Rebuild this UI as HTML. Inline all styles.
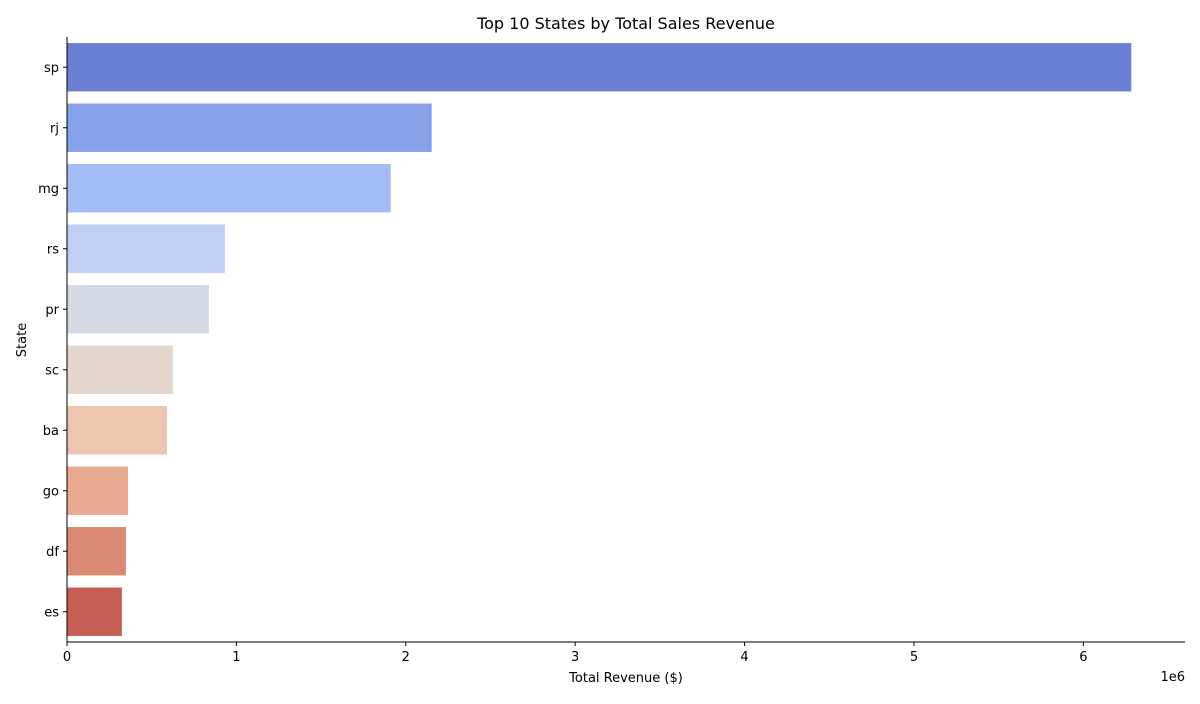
<!DOCTYPE html>
<html><head><meta charset="utf-8"><style>
body{margin:0;background:#fff;font-family:"DejaVu Sans","Liberation Sans",sans-serif;}
</style></head><body>
<svg width="1200" height="700" id="c" xmlns="http://www.w3.org/2000/svg">
<text x="626" y="29" font-size="16" text-anchor="middle">Top 10 States by Total Sales Revenue</text>
<text x="626" y="682" font-size="13" text-anchor="middle">Total Revenue ($)</text>
<text x="1185" y="681" font-size="13" text-anchor="end">1e6</text>
<text x="26" y="340" font-size="13" text-anchor="middle" transform="rotate(-90 26 340)">State</text>
</svg>
<script>
const categories=["sp","rj","mg","rs","pr","sc","ba","go","df","es"];
const revenue=[6.283,2.153,1.911,0.932,0.838,0.625,0.590,0.360,0.348,0.324];
const colors=["#6b7fd3","#86a1e7","#a3bcf5","#bed0f2","#d5dbe5","#e4d6cd","#ebc5b0","#e7aa91","#da8a72","#c55f55"];
const xTicks=[0,1,2,3,4,5,6];
const L=67,R=1185,T=37,B=642,xmax=6.6;
const NS="http://www.w3.org/2000/svg";
const svg=document.getElementById('c');
const x=v=>L+v/xmax*(R-L);
const step=(B-T)/categories.length;
const y=i=>T+i*step;
function mk(t,a){const e=document.createElementNS(NS,t);for(const k in a)e.setAttribute(k,a[k]);svg.appendChild(e);return e;}
categories.forEach((c,i)=>{
 const r=mk('rect',{x:L,y:y(i)+step*0.1,width:x(revenue[i])-L,height:step*0.8,fill:colors[i]});
 
 
 const t=mk('line',{x1:L-4,x2:L,y1:y(i)+step/2,y2:y(i)+step/2,stroke:'#000'});
 
 
 const l=mk('text',{x:L-8,y:y(i)+step/2+4.5,'font-size':13,'text-anchor':'end'});
 l.textContent=c;
 
 
});
xTicks.forEach(v=>{
 const t=mk('line',{x1:x(v),x2:x(v),y1:B,y2:B+4,stroke:'#000'});
 
 
 const l=mk('text',{x:x(v),y:B+19,'font-size':13,'text-anchor':'middle'});
 l.textContent=v;
 
 
});
const ya=mk('line',{x1:L,x2:L,y1:T,y2:B,stroke:'#000'});


const xa=mk('line',{x1:L,x2:R,y1:B,y2:B,stroke:'#000'});


</script>
</body></html>
